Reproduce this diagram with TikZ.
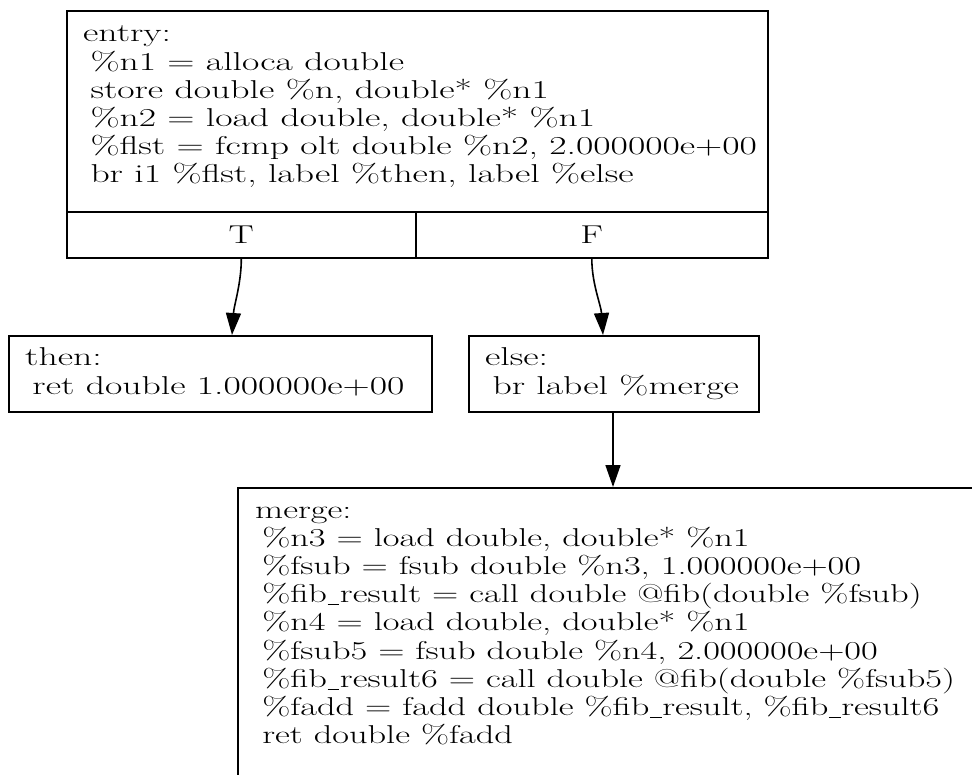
\documentclass[tikz,border=0pt]{standalone}
\usepackage{graphicx}
\usetikzlibrary{arrows.meta}
% block text: wide-set serif lines, left aligned
\newcommand{\codelines}[2][1.46]{\scalebox{#1}[1]{\fontsize{25.8}{28.2}\selectfont\begin{tabular}[t]{@{}l@{}}#2\end{tabular}}}
\newcommand{\ind}{\hspace*{5pt}}
\newcommand{\us}{\kern0.3pt\rule[-2.6pt]{8.5pt}{0.9pt}\kern0.3pt}
\tikzset{
  blk/.style={draw, line width=1.6pt, inner sep=0pt},
  code/.style={inner sep=0pt, anchor=base west},
  cell/.style={blk, font=\fontsize{25.8}{28.2}\selectfont},
  flow/.style={line width=1.6pt, -{Triangle[length=22pt,width=15pt]}}
}
\begin{document}
\begin{tikzpicture}[x=1pt,y=-1pt]
\useasboundingbox (0,0) rectangle (972,775);
\clip (0,0) rectangle (972,775);

% entry block with its two branch cells
\node[blk, minimum width=701pt, minimum height=201pt, anchor=north west] (entry) at (66,10) {};
\node[code] (entrytxt) at (83,42) {\codelines{entry:\\
 \ind\%n1 = alloca double\\
 \ind store double \%n, double* \%n1\\
 \ind\%n2 = load double, double* \%n1\\
 \ind\%flst = fcmp olt double \%n2, 2.000000e+00\\
 \ind br i1 \%flst, label \%then, label \%else}};
\node[cell, minimum width=349pt, minimum height=46pt, anchor=north west] (tcell) at (66,211) {\scalebox{1.46}[1]{T}};
\node[cell, minimum width=352pt, minimum height=46pt, anchor=north west] (fcell) at (415,211) {\scalebox{1.46}[1]{F}};

% then block
\node[blk, minimum width=423pt, minimum height=76pt, anchor=north west] (then) at (8,335) {};
\node[code] (thentxt) at (25,366) {\codelines{then:\\
 \ind ret double 1.000000e+00}};

% else block
\node[blk, minimum width=290pt, minimum height=76pt, anchor=north west] (else) at (468,335) {};
\node[code] (elsetxt) at (485,366) {\codelines{else:\\
 \ind br label \%merge}};

% merge block, running past the page edge
\node[blk, minimum width=800pt, minimum height=340pt, anchor=north west] (merge) at (237,487) {};
\node[code] (mergetxt) at (255,518) {\codelines[1.41]{merge:\\
 \ind\%n3 = load double, double* \%n1\\
 \ind\%fsub = fsub double \%n3, 1.000000e+00\\
 \ind\%fib\us result = call double @fib(double \%fsub)\\
 \ind\%n4 = load double, double* \%n1\\
 \ind\%fsub5 = fsub double \%n4, 2.000000e+00\\
 \ind\%fib\us result6 = call double @fib(double \%fsub5)\\
 \ind\%fadd = fadd double \%fib\us result, \%fib\us result6\\
 \ind ret double \%fadd}};

% control-flow edges
\coordinate (tin) at (232,335);
\coordinate (fin) at (603,335);
\coordinate (min) at (613,487);
\draw[flow] (tcell.south) .. controls ([yshift=-25pt]tcell.south) and ([yshift=30pt,xshift=2pt]tin) .. (tin);
\draw[flow] (fcell.south) .. controls ([yshift=-25pt]fcell.south) and ([yshift=30pt,xshift=-2pt]fin) .. (fin);
\draw[flow] (else.south -| min) -- (min);
\end{tikzpicture}
\end{document}
